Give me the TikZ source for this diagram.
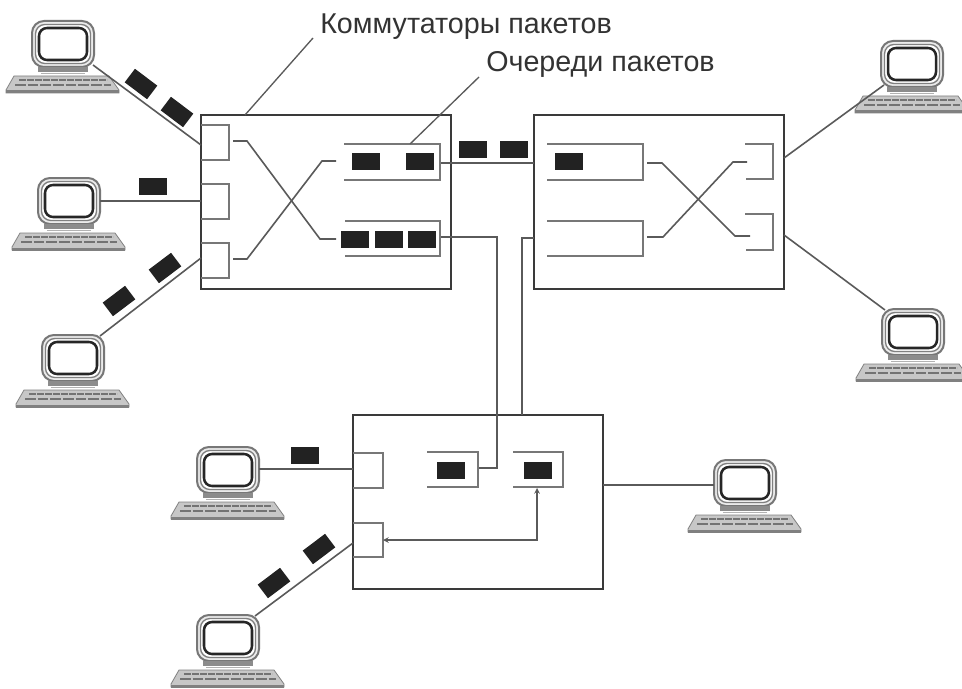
\documentclass[tikz,border=0pt]{standalone}
\usepackage{fontspec}
\setmainfont{Liberation Sans}
\definecolor{boxline}{HTML}{3A3A3A}
\definecolor{thinline}{HTML}{5A5A5A}
\definecolor{paleline}{HTML}{777777}
\definecolor{pack}{HTML}{222222}
\tikzset{
  x=0.75pt,y=-0.75pt,
  switchbox/.style={draw=boxline,line width=2.1pt,fill=white,inner sep=0pt,minimum width=187.5pt,minimum height=130.5pt},
  packet/.style={fill=pack,inner sep=0pt,minimum width=21pt,minimum height=12.75pt},
  link/.style={draw=thinline,line width=1.2pt},
  bracket/.style={draw=paleline,line width=1.5pt},
  lead/.style={draw=thinline,line width=1pt},
  lab/.style={inner sep=0pt,anchor=base west,text=black!80,font=\fontsize{21.5pt}{24pt}\selectfont},
  pics/computer/.style={code={
    \draw[draw=paleline,line width=1.5pt,fill=black!8,rounded corners=9pt] (-31,-23) rectangle (31,23);
    \draw[draw=black!50,line width=1pt,fill=white,rounded corners=7pt] (-27.5,-19.5) rectangle (27.5,19.5);
    \draw[draw=black!85,line width=1.9pt,fill=white,rounded corners=6pt] (-24,-16) rectangle (24,16);
    \fill[black!45] (-25,23) rectangle (25,28);
    \fill[black!30] (-22,29) rectangle (22,30);
    \draw[draw=black!50,line width=.6pt,fill=black!22] (-49,32) -- (46,32) -- (56,46) -- (56,49) -- (-57,49) -- (-57,46) -- cycle;
    \draw[draw=black!55,line width=1.5pt,dash pattern=on 5pt off 1pt] (-44,36) -- (44,36);
    \draw[draw=black!55,line width=1.5pt,dash pattern=on 8pt off 1.5pt] (-48,41) -- (48,41);
    \fill[black!50] (-57,46.5) rectangle (56,49.5);
    \coordinate (-l) at (-31,0);
    \coordinate (-r) at (31,0);
    \coordinate (-tl) at (-28,-22);
    \coordinate (-tr) at (27,-22);
    \coordinate (-bl) at (-28,21);
    \coordinate (-br) at (30,21);
  }}
}
\begin{document}
\begin{tikzpicture}
\useasboundingbox (0,0) rectangle (962,688);
\fill[white] (0,0) rectangle (962,688);

% switches
\node[switchbox] (s1) at (326,202) {};
\node[switchbox] (s2) at (659,202) {};
\node[switchbox] (s3) at (478,502) {};

% computers
\pic (c1) at (63,44) {computer};
\pic (c2) at (69,201) {computer};
\pic (c3) at (73,358) {computer};
\pic (c4) at (228,470) {computer};
\pic (c5) at (228,638) {computer};
\pic (c6) at (912,64) {computer};
\pic (c7) at (913,332) {computer};
\pic (c8) at (745,483) {computer};

% link end points on the switches
\coordinate (s1a) at (201,145);
\coordinate (s1b) at (201,201);
\coordinate (s1c) at (201,258);
\coordinate (s1q1) at (440,163);
\coordinate (s2q1) at (534,163);
\coordinate (s1q2) at (440,237);
\coordinate (s1q2k) at (497,237);
\coordinate (s3q1) at (478,468);
\coordinate (s3q1k) at (497,468);
\coordinate (s2q2) at (534,238);
\coordinate (s2q2k) at (522,238);
\coordinate (s3t) at (522,415);
\coordinate (s2r1) at (784,158);
\coordinate (s2r2) at (784,235);
\coordinate (s3l1) at (353,469);
\coordinate (s3l2) at (353,543);
\coordinate (s3r) at (603,485);

% links
\draw[link] (c1-br) -- (s1a);
\draw[link] (c2-r |- s1b) -- (s1b);
\draw[link] (c3-tr) -- (s1c);
\draw[link] (s1q1) -- (s2q1);
\draw[link] (s1q2) -- (s1q2k) -- (s3q1k) -- (s3q1);
\draw[link] (s2q2) -- (s2q2k) -- (s3t);
\draw[link] (s2r1) -- (c6-bl);
\draw[link] (s2r2) -- (c7-tl);
\draw[link] (c4-r |- s3l1) -- (s3l1);
\draw[link] (c5-tr) -- (s3l2);
\draw[link] (s3r) -- (c8-l |- s3r);

% ports, switch 1
\draw[bracket] (201,125) -- (229,125) -- (229,160) -- (201,160);
\draw[bracket] (201,184) -- (229,184) -- (229,219) -- (201,219);
\draw[bracket] (201,243) -- (229,243) -- (229,278) -- (201,278);
% queues, switch 1
\draw[bracket] (344,144) -- (440,144) -- (440,180) -- (344,180);
\draw[bracket] (345,221) -- (440,221) -- (440,256) -- (345,256);
% crossing, switch 1
\draw[link] (233,141) -- (247,141) -- (320,239) -- (336,239);
\draw[link] (233,259) -- (247,259) -- (322,161) -- (336,161);

% queues, switch 2
\draw[bracket] (547,144) -- (643,144) -- (643,180) -- (547,180);
\draw[bracket] (547,221) -- (643,221) -- (643,256) -- (547,256);
% ports, switch 2
\draw[bracket] (745,144) -- (773,144) -- (773,179) -- (746,179);
\draw[bracket] (745,214) -- (773,214) -- (773,250) -- (746,250);
% crossing, switch 2
\draw[link] (647,163) -- (662,163) -- (735,236) -- (750,236);
\draw[link] (647,237) -- (663,237) -- (733,162) -- (747,162);

% ports and queues, switch 3
\draw[bracket] (353,453) -- (383,453) -- (383,488) -- (353,488);
\draw[bracket] (353,523) -- (383,523) -- (383,557) -- (353,557);
\draw[bracket] (427,452) -- (478,452) -- (478,487) -- (427,487);
\draw[bracket] (513,452) -- (563,452) -- (563,487) -- (513,487);
\coordinate (s3p) at (383,540);
\coordinate (s3pk) at (537,540);
\coordinate (s3q) at (537,488);
\draw[draw=thinline,line width=.9pt,stealth-stealth] (s3p) -- (s3pk) -- (s3q);

% packets
\node[packet] (p1) at (366,161.5) {};
\node[packet] (p2) at (420,161.5) {};
\node[packet] (p3) at (354.5,239.5) {};
\node[packet] (p4) at (389,239.5) {};
\node[packet] (p5) at (422,239.5) {};
\node[packet] (p6) at (472.5,149.5) {};
\node[packet] (p7) at (513.5,149.5) {};
\node[packet] (p8) at (569,161.5) {};
\node[packet] (p9) at (451,470.5) {};
\node[packet] (p10) at (537.5,470.5) {};
\node[packet] (p11) at (304.5,455.5) {};
\node[packet] (p12) at (153,186.5) {};
\node[packet,rotate=-37] (p13) at (141,84) {};
\node[packet,rotate=-37] (p14) at (177,112) {};
\node[packet,rotate=37] (p15) at (119,301) {};
\node[packet,rotate=37] (p16) at (165,268) {};
\node[packet,rotate=37] (p17) at (319,549) {};
\node[packet,rotate=37] (p18) at (274,583) {};

% labels and leaders
\node[lab] (l1) at (320,34) {Коммутаторы пакетов};
\node[lab] (l2) at (486,72) {Очереди пакетов};
\coordinate (l1e) at (313,38);
\coordinate (s1t) at (245,115);
\coordinate (l2e) at (479,77);
\coordinate (q1t) at (410,144);
\draw[lead] (l1e) -- (s1t);
\draw[lead] (l2e) -- (q1t);
\end{tikzpicture}
\end{document}
